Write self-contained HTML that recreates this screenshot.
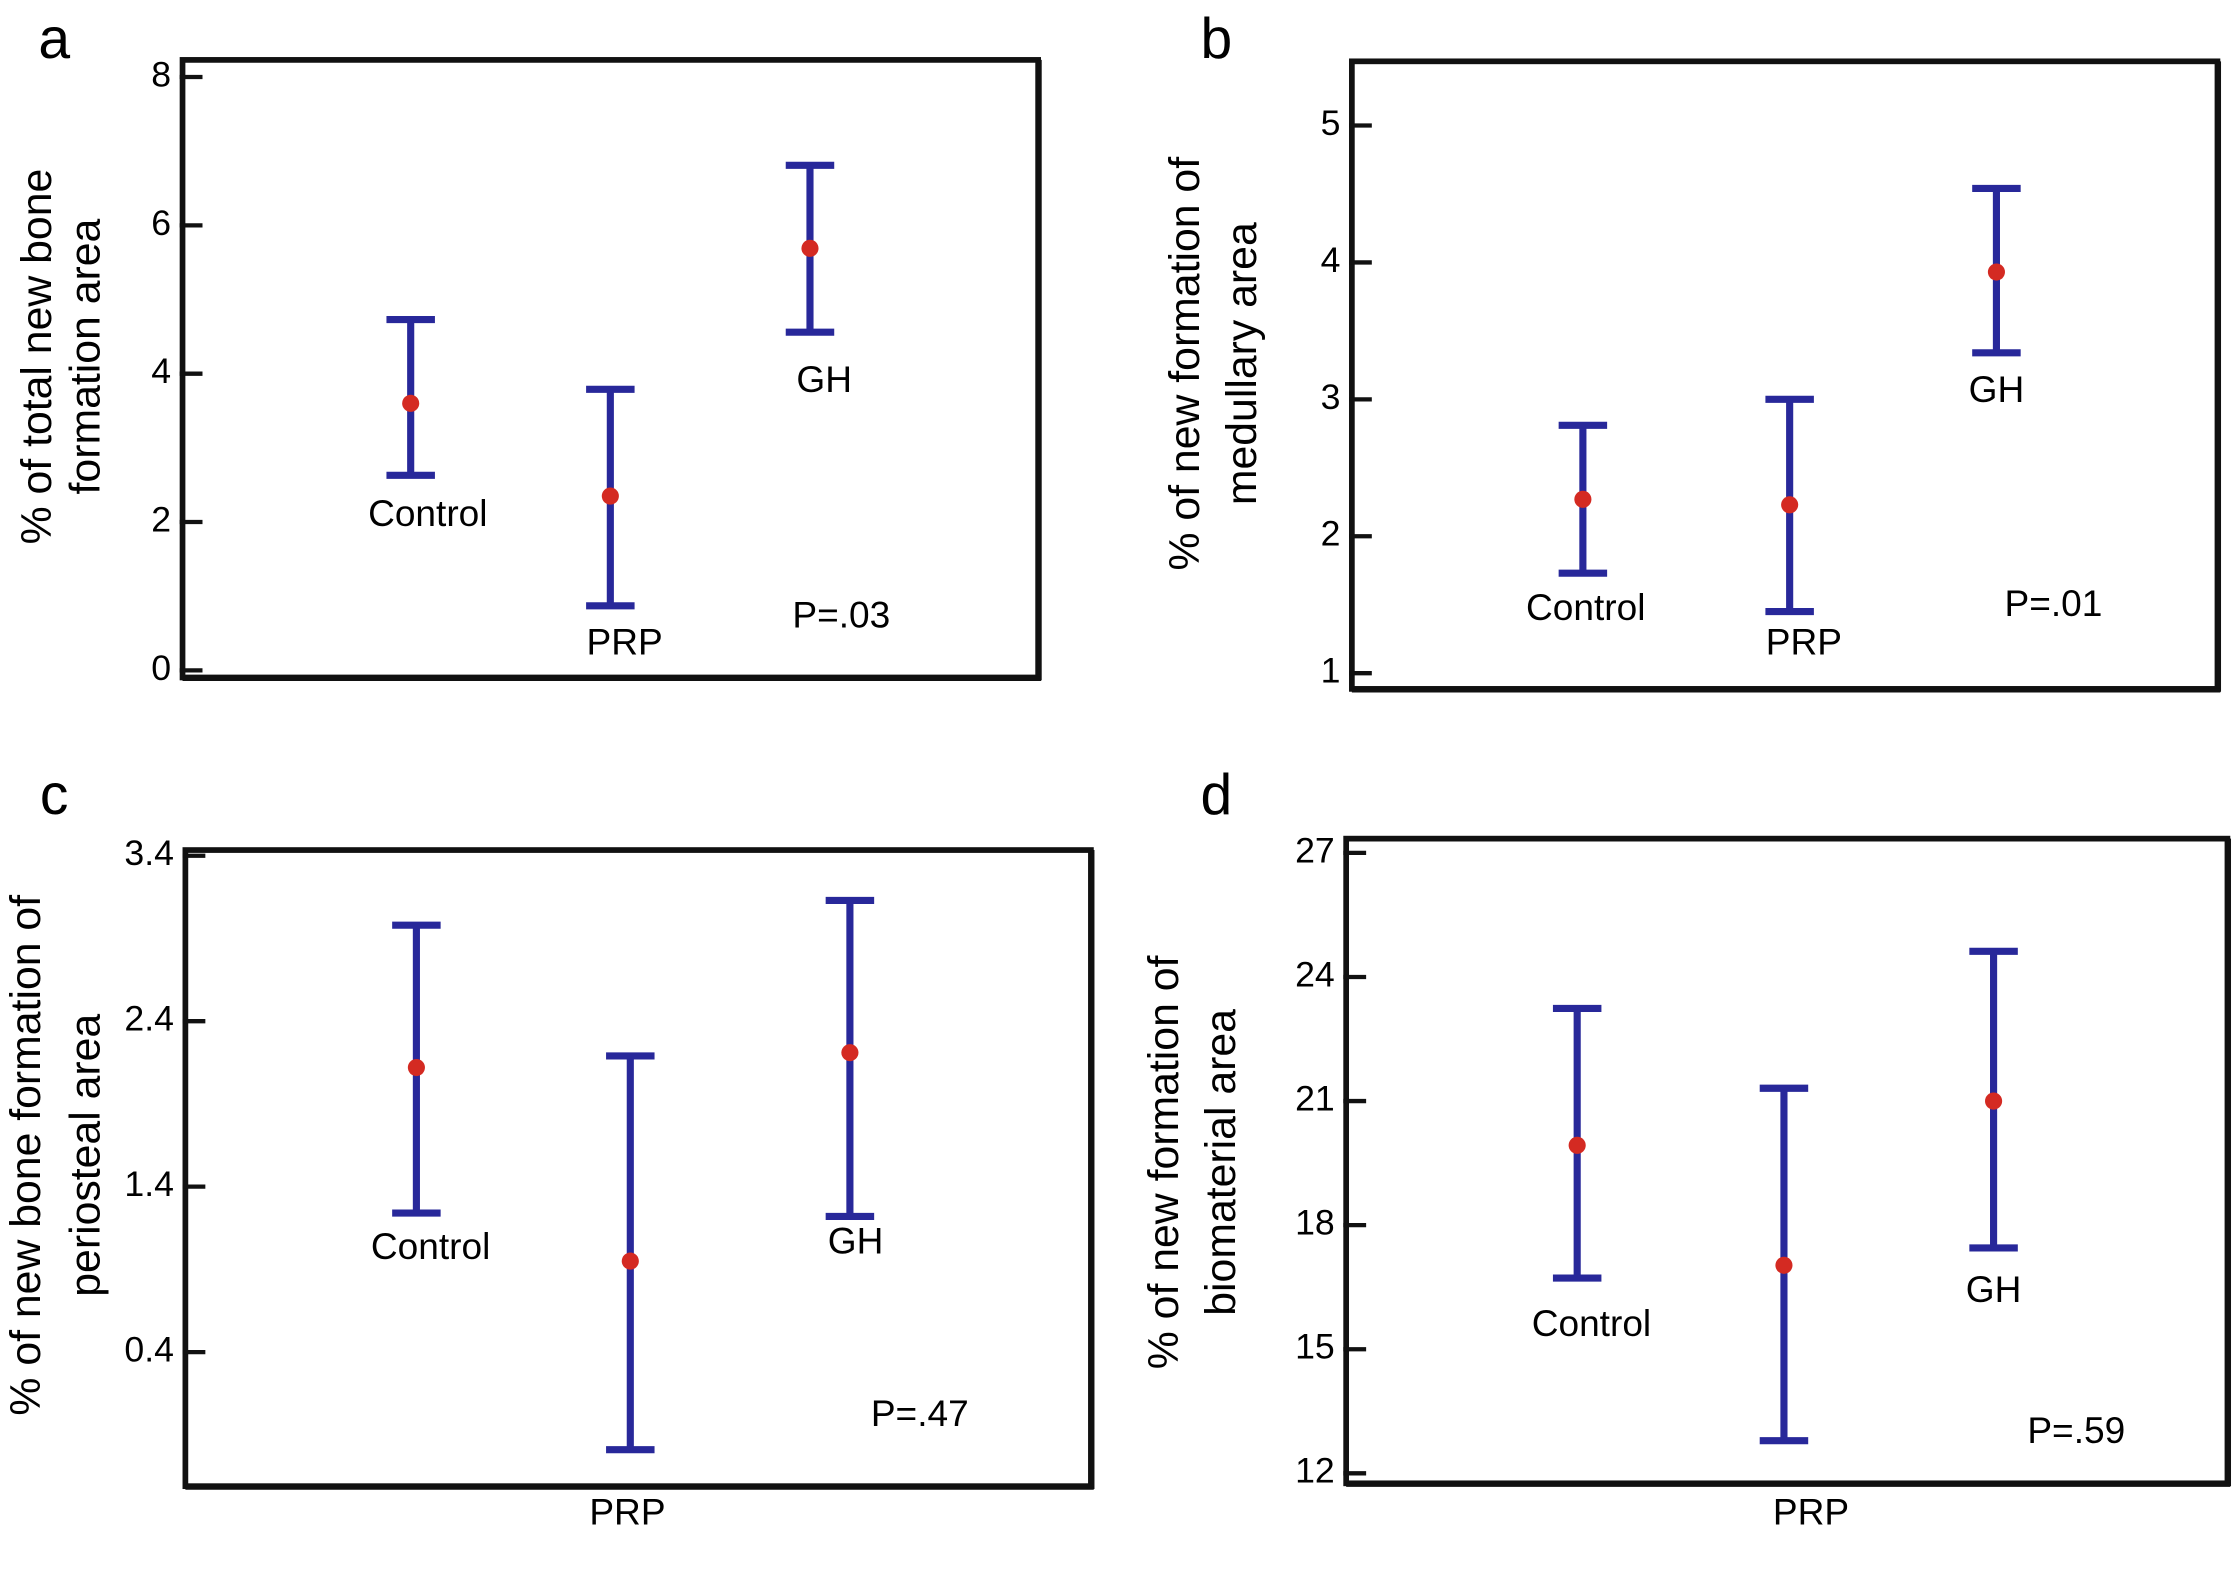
<!DOCTYPE html>
<html><head><meta charset="utf-8"><style>
html,body{margin:0;padding:0;background:#fff;}
svg{display:block;font-family:"Liberation Sans",sans-serif;}
</style></head><body>
<svg id="fig" width="2236" height="1586" viewBox="0 0 1568 1112" preserveAspectRatio="none" xmlns="http://www.w3.org/2000/svg"></svg>
<script>
// Panel data
const categories = ["Control","PRP","GH"];
const meanA = [3.6, 2.35, 5.69], lowA = [2.63, 0.87, 4.56], highA = [4.73, 3.79, 6.81];
const meanB = [2.27, 2.23, 3.93], lowB = [1.73, 1.45, 3.34], highB = [2.81, 3.0, 4.54];
const meanC = [2.12, 0.95, 2.21], lowC = [1.24, -0.19, 1.22], highC = [2.98, 2.19, 3.13];
const meanD = [19.93, 17.03, 21.0], lowD = [16.72, 12.79, 17.45], highD = [23.24, 21.31, 24.62];
const ticksA = [0,2,4,6,8];
const ticksB = [1,2,3,4,5];
const ticksC = [0.4,1.4,2.4,3.4];
const ticksD = [12,15,18,21,24,27];
const pvals = ["P=.03","P=.01","P=.47","P=.59"];

const NS="http://www.w3.org/2000/svg";
const svg=document.getElementById('fig');
function mk(tag,attrs,parent){const e=document.createElementNS(NS,tag);for(const k in attrs)e.setAttribute(k,attrs[k]);(parent||svg).appendChild(e);return e;}

const panels=[
 {id:'a',letter:[38,30],box:[128,42,728,475],v0:0,y0:470,v1:8,y1:54,ticks:ticksA,fmt:v=>String(v),xs:[288,428,568],
  mean:meanA,low:lowA,high:highA,title:["% of total new bone","formation area"],tx:[28,62],ty:250,
  labels:[[300,362],[438,452],[578,268]],p:[590,433]},
 {id:'b',letter:[853,30],box:[948,43,1555,483],v0:1,y0:472,v1:5,y1:88,ticks:ticksB,fmt:v=>String(v),xs:[1110,1255,1400],
  mean:meanB,low:lowB,high:highB,title:["% of new formation of","medullary area"],tx:[833,873],ty:255,
  labels:[[1112,428],[1265,452],[1400,275]],p:[1440,425]},
 {id:'c',letter:[38,560],box:[130,596,765,1042],v0:0.4,y0:948,v1:3.4,y1:600,ticks:ticksC,fmt:v=>v.toFixed(1),xs:[292,442,596],
  mean:meanC,low:lowC,high:highC,title:["% of new bone formation of","periosteal area"],tx:[20,62],ty:810,
  labels:[[302,876],[440,1062],[600,872]],p:[645,993]},
 {id:'d',letter:[853,560],box:[944,588,1562,1040],v0:12,y0:1033,v1:27,y1:598,ticks:ticksD,fmt:v=>String(v),xs:[1106,1251,1398],
  mean:meanD,low:lowD,high:highD,title:["% of new formation of","biomaterial area"],tx:[818,858],ty:815,
  labels:[[1116,930],[1270,1062],[1398,906]],p:[1456,1005]}
];
panels.forEach((P,pi)=>{
  const g=mk('g',{});
  
  
  const y=v=>P.y0+(v-P.v0)*(P.y1-P.y0)/(P.v1-P.v0);
  const L=mk('text',{x:P.letter[0],y:P.letter[1],'font-size':40,'text-anchor':'middle','dominant-baseline':'middle'},g);
  L.textContent=P.id;
  
  
  const [x0,y0,x1,y1]=P.box;
  const r=mk('rect',{x:x0,y:y0,width:x1-x0,height:y1-y0,fill:'none',stroke:'#111','stroke-width':4},g);
  
  
  mk('line',{x1:x1+1,y1:y0,x2:x1+1,y2:y1+2,stroke:'#111','stroke-width':3},g);
  mk('line',{x1:x0,y1:y1+1,x2:x1+2,y2:y1+1,stroke:'#111','stroke-width':3},g);
  P.ticks.forEach(t=>{
    const ty=y(t);
    const tl=mk('line',{x1:x0-2,y1:ty,x2:x0+14,y2:ty,stroke:'#111','stroke-width':3},g);
    
    
    const tt=mk('text',{x:x0-8,y:ty,'font-size':25,'text-anchor':'end','dominant-baseline':'middle'},g);
    tt.textContent=P.fmt(t);
    
    
  });
  P.title.forEach((s,i)=>{
    const t=mk('text',{x:P.tx[i],y:P.ty,'font-size':30,'text-anchor':'middle','dominant-baseline':'middle',transform:`rotate(-90 ${P.tx[i]} ${P.ty})`},g);
    t.textContent=s;
    
    
  });
  categories.forEach((c,i)=>{
    const x=P.xs[i], hw=17;
    const eg=mk('g',{},g);
    
    
    const st={stroke:'#28289a','stroke-width':5};
    mk('line',Object.assign({x1:x,y1:y(P.low[i]),x2:x,y2:y(P.high[i])},st),eg);
    mk('line',Object.assign({x1:x-hw,y1:y(P.low[i]),x2:x+hw,y2:y(P.low[i])},st),eg);
    mk('line',Object.assign({x1:x-hw,y1:y(P.high[i]),x2:x+hw,y2:y(P.high[i])},st),eg);
    const d=mk('circle',{cx:x,cy:y(P.mean[i]),r:6,fill:'#d42a22'},eg);
    
    
    const lt=mk('text',{x:P.labels[i][0],y:P.labels[i][1],'font-size':26,'text-anchor':'middle','dominant-baseline':'middle'},g);
    lt.textContent=c;
    
    
  });
  const p=mk('text',{x:P.p[0],y:P.p[1],'font-size':26,'text-anchor':'middle','dominant-baseline':'middle'},g);
  p.textContent=pvals[pi];
  
  
});
</script>
</body></html>
